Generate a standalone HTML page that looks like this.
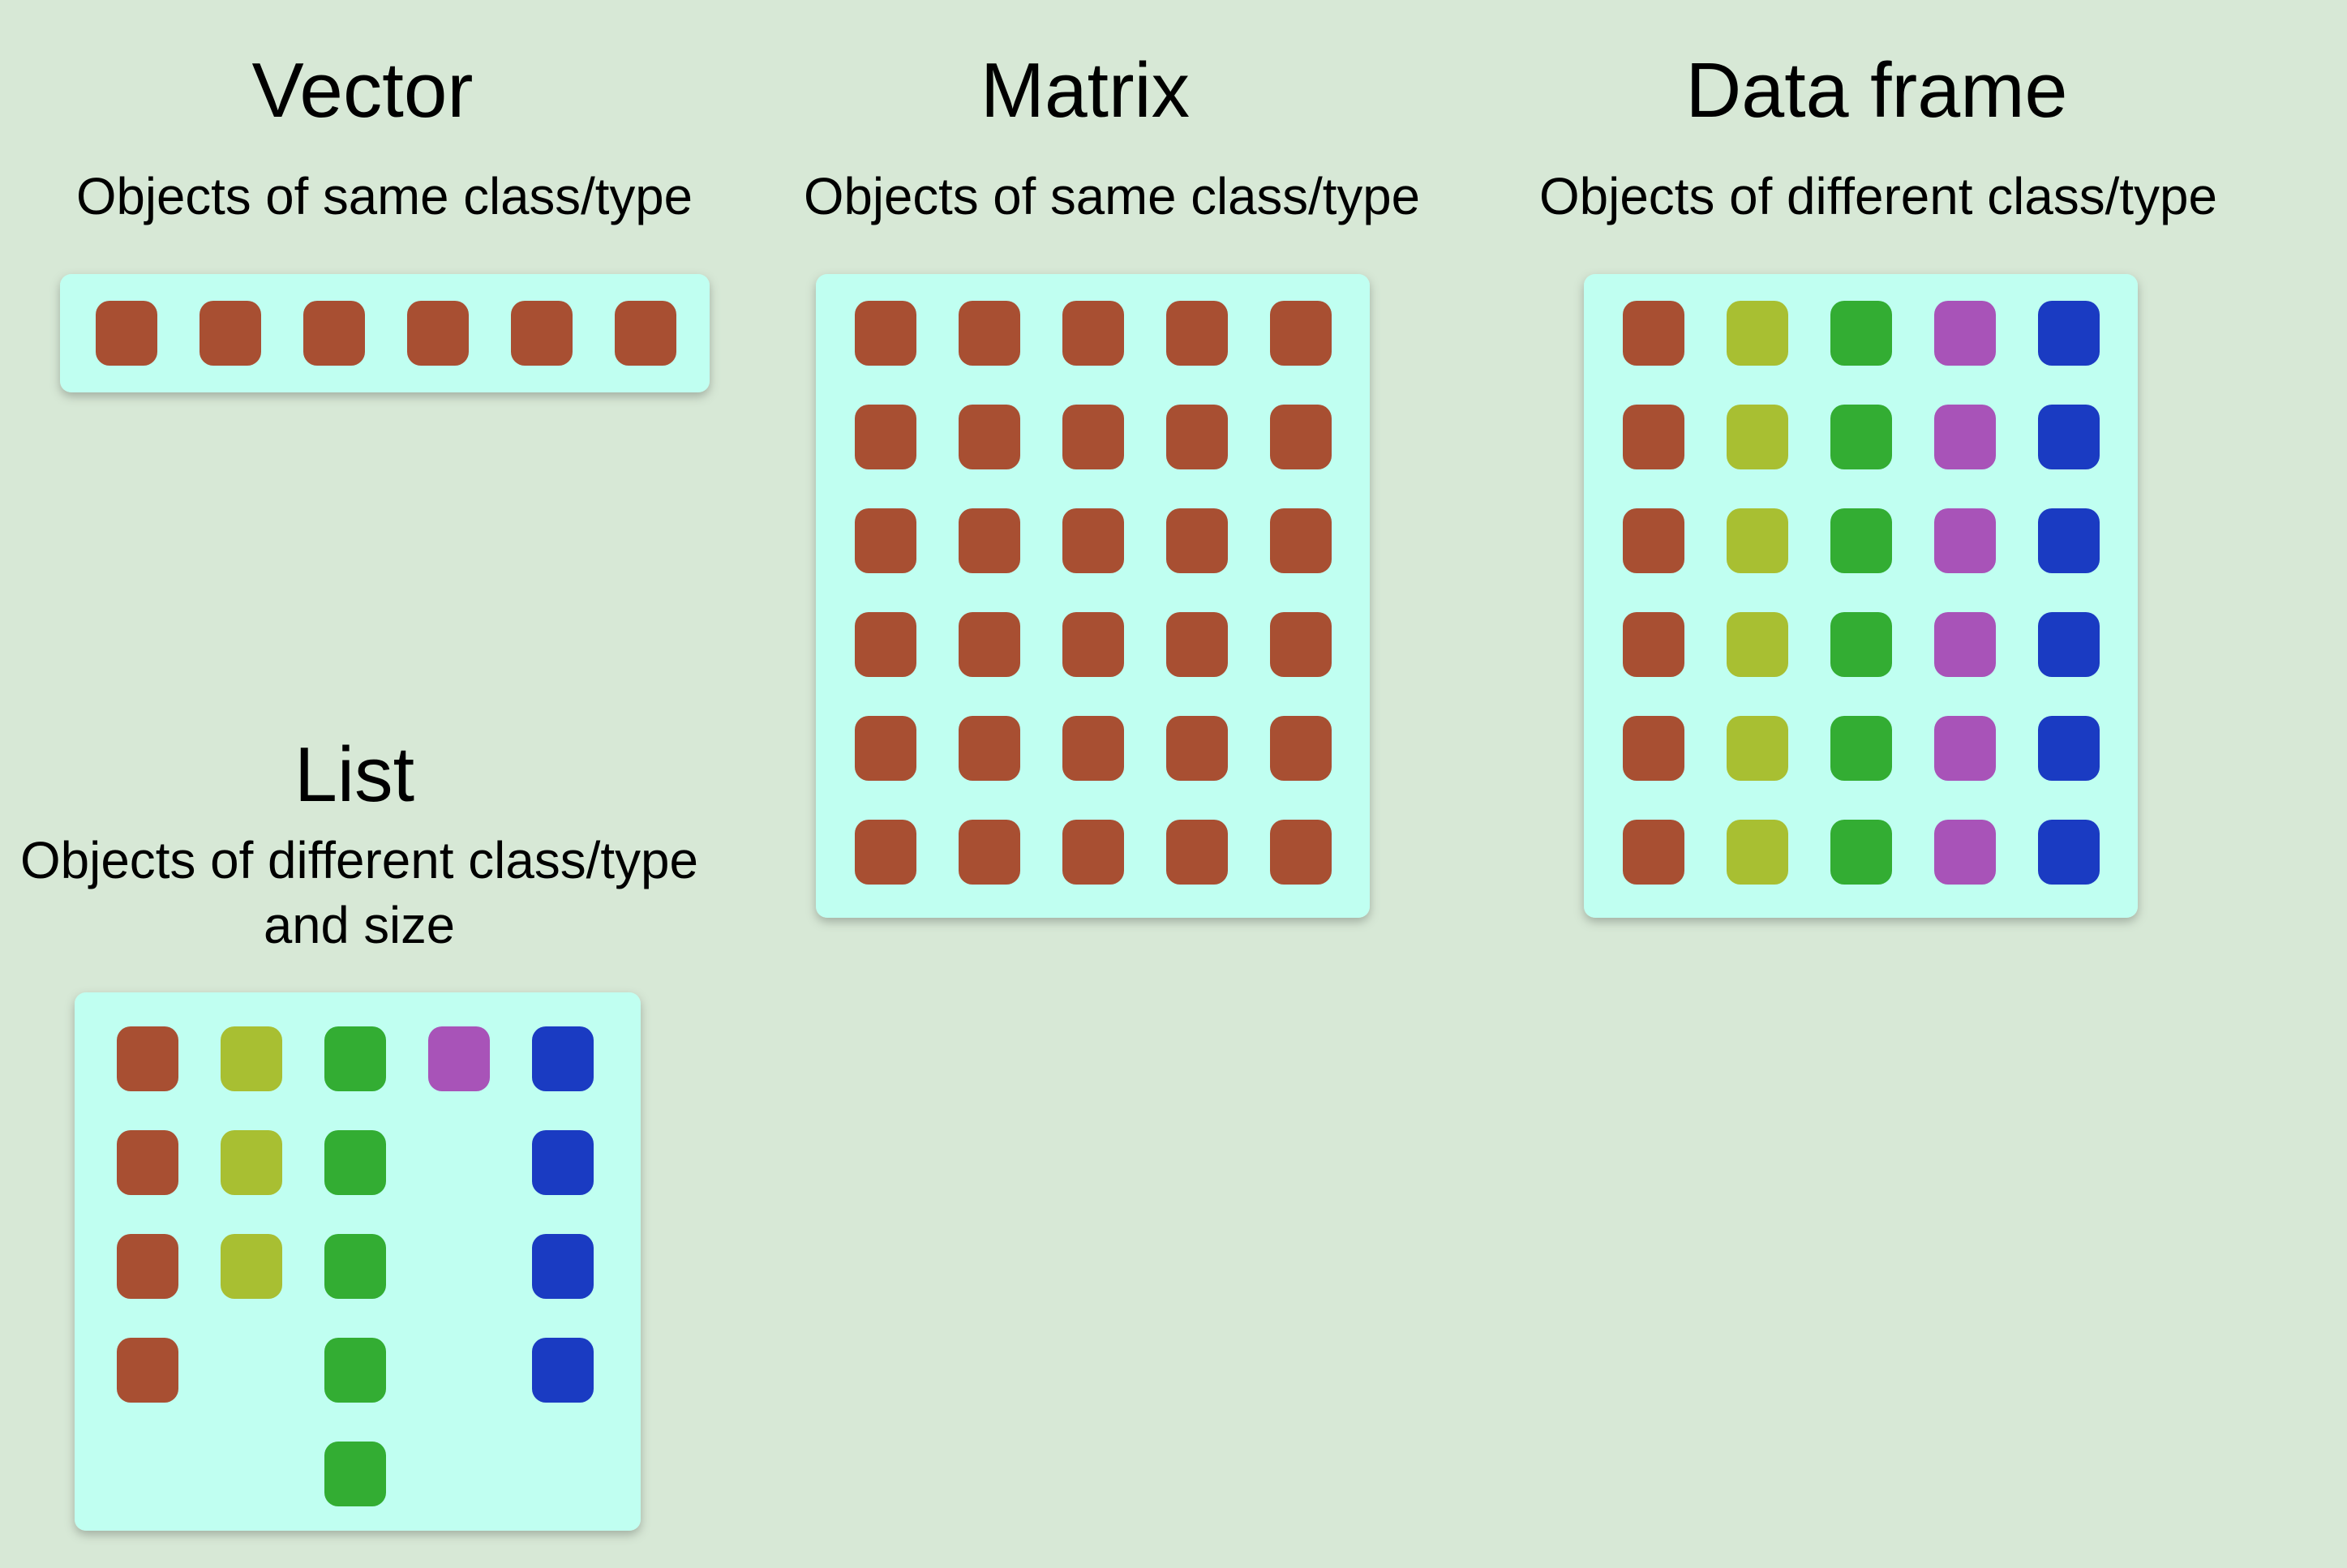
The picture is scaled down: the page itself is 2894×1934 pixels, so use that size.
<!DOCTYPE html>
<html><head><meta charset="utf-8">
<style>
html,body{margin:0;padding:0;background:#d7e8d6;}
svg{display:block;}
text{font-family:"Liberation Sans",sans-serif;fill:#000;}
</style></head>
<body>
<svg id="chart" width="2894" height="1934" viewBox="0 0 2894 1934">
<defs>
<filter id="sh" x="-10%" y="-10%" width="120%" height="130%">
<feDropShadow dx="0" dy="5" stdDeviation="6" flood-color="#000" flood-opacity="0.25"/>
</filter>
</defs>
<rect width="2894" height="1934" fill="#d7e8d6"/>

<text x="447" y="144" font-size="96" text-anchor="middle" textLength="273" lengthAdjust="spacingAndGlyphs">Vector</text>
<text x="474" y="264" font-size="64" text-anchor="middle" textLength="760" lengthAdjust="spacingAndGlyphs">Objects of same class/type</text>

<text x="1338" y="144" font-size="96" text-anchor="middle" textLength="258" lengthAdjust="spacingAndGlyphs">Matrix</text>
<text x="1371" y="264" font-size="64" text-anchor="middle" textLength="760" lengthAdjust="spacingAndGlyphs">Objects of same class/type</text>

<text x="2314" y="144" font-size="96" text-anchor="middle" textLength="471" lengthAdjust="spacingAndGlyphs">Data frame</text>
<text x="2316" y="264" font-size="64" text-anchor="middle" textLength="836" lengthAdjust="spacingAndGlyphs">Objects of different class/type</text>

<text x="437" y="988" font-size="96" text-anchor="middle" textLength="148" lengthAdjust="spacingAndGlyphs">List</text>
<text x="443" y="1083" font-size="64" text-anchor="middle" textLength="836" lengthAdjust="spacingAndGlyphs">Objects of different class/type</text>
<text x="443" y="1163" font-size="64" text-anchor="middle" textLength="236" lengthAdjust="spacingAndGlyphs">and size</text>

<g id="panels"></g>
</svg>
<script>
// colors per column type
const typeColors = ["#a84f32", "#a8bf32", "#33ad33", "#a853b8", "#1a3bc2"];
// vector: 6 elements, all type 0
const vectorTypes = [0, 0, 0, 0, 0, 0];
// matrix: 5 columns x 6 rows, all type 0
const matrixCols = [0, 0, 0, 0, 0];
const matrixRows = 6;
// data frame: 5 columns of different types, 6 rows
const dfCols = [0, 1, 2, 3, 4];
const dfRows = 6;
// list: element types and lengths
const listTypes = [0, 1, 2, 3, 4];
const listLengths = [4, 3, 5, 1, 4];

const NS = "http://www.w3.org/2000/svg";
const g = document.getElementById("panels");
const pitch = 128, sw = 76, shh = 80;

function panel(x, y, w, h, name) {
  const r = document.createElementNS(NS, "rect");
  r.setAttribute("x", x); r.setAttribute("y", y);
  r.setAttribute("width", w); r.setAttribute("height", h);
  r.setAttribute("rx", 14); r.setAttribute("fill", "#c0fff1");
  r.setAttribute("filter", "url(#sh)");
  
  
  g.appendChild(r);
}
function cell(x0, y0, col, row, type, name) {
  const r = document.createElementNS(NS, "rect");
  r.setAttribute("x", x0 + col * pitch);
  r.setAttribute("y", y0 + row * pitch);
  r.setAttribute("width", sw); r.setAttribute("height", shh);
  r.setAttribute("rx", 17);
  r.setAttribute("fill", typeColors[type]);
  
  
  g.appendChild(r);
}

panel(74, 338, 801, 146, "vector-panel");
vectorTypes.forEach((t, i) => cell(118, 371, i, 0, t, "vector-element-" + (i + 1)));

panel(1006, 338, 683, 794, "matrix-panel");
matrixCols.forEach((t, c) => { for (let r = 0; r < matrixRows; r++) cell(1054, 371, c, r, t, "matrix-cell-r" + (r + 1) + "-c" + (c + 1)); });

panel(1953, 338, 683, 794, "data-frame-panel");
dfCols.forEach((t, c) => { for (let r = 0; r < dfRows; r++) cell(2001, 371, c, r, t, "data-frame-cell-r" + (r + 1) + "-c" + (c + 1)); });

panel(92, 1224, 698, 664, "list-panel");
listTypes.forEach((t, c) => { for (let r = 0; r < listLengths[c]; r++) cell(144, 1266, c, r, t, "list-element-" + (c + 1) + "-item-" + (r + 1)); });
</script>
</body></html>
